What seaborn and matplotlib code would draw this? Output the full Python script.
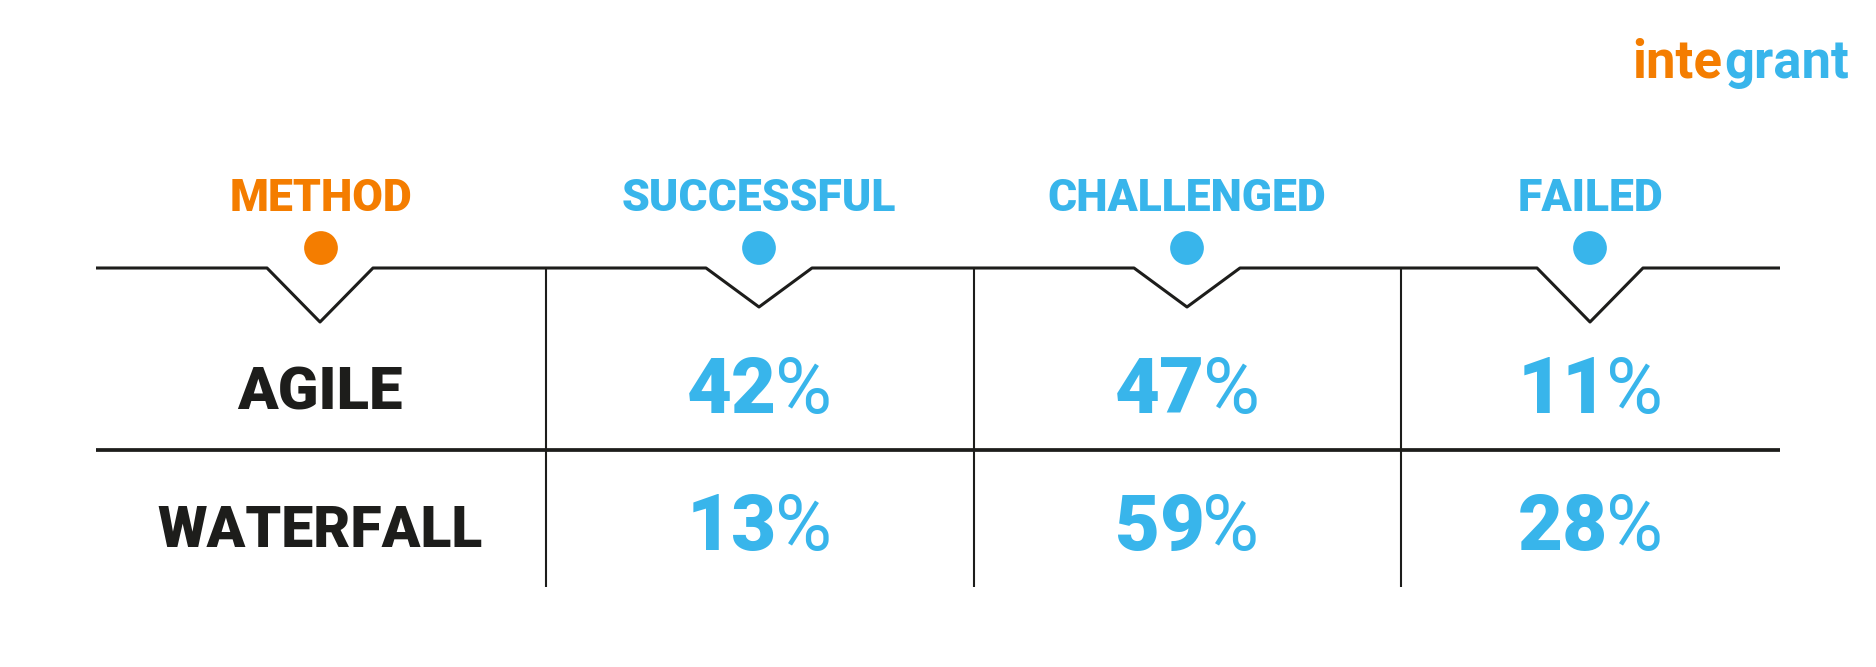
import matplotlib
matplotlib.use("Agg")
import matplotlib.pyplot as plt
import pandas as pd
import seaborn as sns

# table content
columns = ["METHOD", "SUCCESSFUL", "CHALLENGED", "FAILED"]
methods = ["AGILE", "WATERFALL"]
successful = [42, 13]
challenged = [47, 59]
failed = [11, 28]

ORANGE = "#F47D00"
BLUE = "#38B5EB"
BLACK = "#1D1D1B"
FONT = "Roboto"

sns.set_theme(style="white")
plt.rcParams["font.family"] = [FONT, "DejaVu Sans"]

fig = plt.figure(figsize=(18.76, 6.67), dpi=100)
ax = fig.add_axes([0, 0, 1, 1])
ax.set_xlim(0, 1876)
ax.set_ylim(667, 0)
ax.set_axis_off()

# layout, in pixels of the picture
col_x = [320, 759, 1187, 1590]
dot_x = [321, 759, 1187, 1590]
col_sep = [546, 974, 1401]
rule_y = 268
row_rule_y = 450
row_base = [413, 550]
label_base = [409, 547]
label_size = [43, 41]
notch_half = [53, 53, 53, 53]
notch_depth = [54, 39, 39, 54]

# header rule with the notches under each dot
xs = [96]
ys = [rule_y]
for cx, half, depth in zip(col_x, notch_half, notch_depth):
    xs += [cx - half, cx, cx + half]
    ys += [rule_y, rule_y + depth, rule_y]
xs.append(1780)
ys.append(rule_y)
sns.lineplot(x=xs, y=ys, sort=False, estimator=None, color=BLACK, linewidth=2.2,
             solid_capstyle="butt", ax=ax)

# row rule and column separators
sns.lineplot(x=[96, 1780], y=[row_rule_y, row_rule_y], sort=False, estimator=None,
             color=BLACK, linewidth=2.7, solid_capstyle="butt", ax=ax)
for sx in col_sep:
    ax.vlines(sx, rule_y, 587, color=BLACK, linewidth=1.5)

# dots on top of the notches
dots = pd.DataFrame({"x": dot_x, "y": [248] * 4, "col": columns})
sns.scatterplot(data=dots, x="x", y="y", hue="col", legend=False, s=590, linewidth=0,
                palette=[ORANGE, BLUE, BLUE, BLUE], ax=ax)

# headers
for cx, name in zip(dot_x, columns):
    ax.text(cx, 211, name, ha="center", va="baseline", fontsize=32, fontweight="black",
            color=ORANGE if name == "METHOD" else BLUE)

# rows, heavy digits with a light percent sign
renderer = fig.canvas.get_renderer()
for i, name in enumerate(methods):
    ax.text(col_x[0], label_base[i], name, ha="center", va="baseline", fontsize=label_size[i],
            fontweight="black", color=BLACK)
    for cx, vals in zip(col_x[1:], [successful, challenged, failed]):
        num = ax.text(cx, row_base[i], str(vals[i]), ha="left", va="baseline", fontsize=56,
                      fontweight="black", color=BLUE)
        pct = ax.text(cx, row_base[i], "%", ha="left", va="baseline", fontsize=56,
                      fontweight="normal", color=BLUE)
        w_num = num.get_window_extent(renderer).width
        w_pct = pct.get_window_extent(renderer).width
        left = cx - (w_num + w_pct - 2) / 2
        num.set_x(left)
        pct.set_x(left + w_num - 2)

# logo
ax.text(1722, 78, "inte", ha="right", va="baseline", fontsize=38, fontweight="bold", color=ORANGE)
ax.text(1724, 78, "grant", ha="left", va="baseline", fontsize=38, fontweight="bold", color=BLUE)

fig.savefig("out.png", dpi=100, facecolor="white")
